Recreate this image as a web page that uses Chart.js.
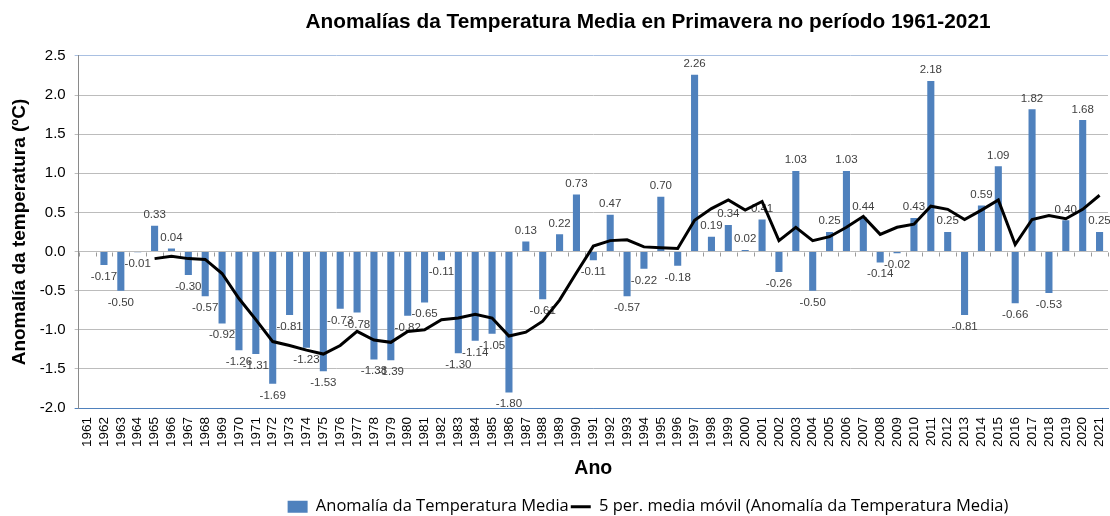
<!DOCTYPE html>
<html>
<head>
<meta charset="utf-8">
<script src="https://cdn.jsdelivr.net/npm/chart.js@4.4.1/dist/chart.umd.min.js"></script>
<style>
  body { margin: 0; background: #fff; }
  #wrap { width: 1110px; height: 516px; overflow: hidden; }
</style>
</head>
<body>
<div id="wrap"><canvas id="myChart" width="1296" height="525"></canvas></div>
<script>
// anos 1961-2021
var years = ["1961", "1962", "1963", "1964", "1965", "1966", "1967", "1968", "1969", "1970",
  "1971", "1972", "1973", "1974", "1975", "1976", "1977", "1978", "1979", "1980",
  "1981", "1982", "1983", "1984", "1985", "1986", "1987", "1988", "1989", "1990",
  "1991", "1992", "1993", "1994", "1995", "1996", "1997", "1998", "1999", "2000",
  "2001", "2002", "2003", "2004", "2005", "2006", "2007", "2008", "2009", "2010",
  "2011", "2012", "2013", "2014", "2015", "2016", "2017", "2018", "2019", "2020", "2021"];

// anomalia (ºC)
var anomaly = [null, -0.17, -0.50, -0.01, 0.33, 0.04, -0.30, -0.57, -0.92, -1.26,
  -1.31, -1.69, -0.81, -1.23, -1.53, -0.73, -0.78, -1.38, -1.39, -0.82,
  -0.65, -0.11, -1.30, -1.14, -1.05, -1.80, 0.13, -0.61, 0.22, 0.73,
  -0.11, 0.47, -0.57, -0.22, 0.70, -0.18, 2.26, 0.19, 0.34, 0.02,
  0.41, -0.26, 1.03, -0.50, 0.25, 1.03, 0.44, -0.14, -0.02, 0.43,
  2.18, 0.25, -0.81, 0.59, 1.09, -0.66, 1.82, -0.53, 0.40, 1.68, 0.25];

// media movel 5 anos
var movingAvg = [null, null, null, null, -0.09, -0.06, -0.09, -0.10, -0.28, -0.60,
  -0.87, -1.15, -1.20, -1.26, -1.31, -1.20, -1.02, -1.13, -1.16, -1.02,
  -1.00, -0.87, -0.85, -0.80, -0.85, -1.08, -1.03, -0.89, -0.62, -0.27,
  0.07, 0.14, 0.15, 0.06, 0.05, 0.04, 0.40, 0.55, 0.66, 0.53,
  0.64, 0.14, 0.31, 0.14, 0.19, 0.31, 0.45, 0.22, 0.31, 0.35,
  0.58, 0.54, 0.41, 0.53, 0.66, 0.09, 0.41, 0.46, 0.42, 0.54, 0.72];

var yTicks = [-2.0, -1.5, -1.0, -0.5, 0.0, 0.5, 1.0, 1.5, 2.0, 2.5];

var blue = "#4f81bd";

// etiquetas dos valores nas barras
const barLabels = {
  id: 'barLabels',
  afterDatasetDraw(chart, args) {
    if (args.index !== 0) return;
    const ctx = chart.ctx;
    ctx.save();
    ctx.font = '11.5px "Liberation Sans"';
    ctx.fillStyle = '#404040';
    ctx.textAlign = 'center';
    args.meta.data.forEach(function (bar, i) {
      var v = anomaly[i];
      if (v === null) return;
      if (v >= 0) {
        ctx.textBaseline = 'bottom';
        ctx.fillText(v.toFixed(2), bar.x, bar.y - 5);
      } else {
        ctx.textBaseline = 'top';
        ctx.fillText(v.toFixed(2), bar.x, bar.y + 6);
      }
    });
    ctx.restore();
  }
};

// marcas no eixo zero
const zeroTicks = {
  id: 'zeroTicks',
  beforeDatasetsDraw(chart) {
    const ctx = chart.ctx;
    const xs = chart.scales.x, ys = chart.scales.y;
    const y0 = Math.round(ys.getPixelForValue(0)) + 0.5;
    const step = xs.width / years.length;
    ctx.save();
    ctx.strokeStyle = '#9a9a9a';
    ctx.lineWidth = 1;
    ctx.beginPath();
    for (let i = 0; i <= years.length; i++) {
      const px = Math.round(xs.left + i * step) + 0.5;
      ctx.moveTo(px, y0);
      ctx.lineTo(px, y0 + 4);
    }
    ctx.stroke();
    ctx.restore();
  }
};

const ctx = document.getElementById('myChart');

new Chart(ctx, {
  type: 'bar',
  data: {
    labels: years,
    datasets: [
      {
        label: 'Anomalía da Temperatura Media',
        data: anomaly,
        backgroundColor: blue,
        borderWidth: 0,
        categoryPercentage: 1,
        barPercentage: 0.42,
        pointStyle: 'rect',
        order: 1
      },
      {
        type: 'line',
        label: '5 per. media móvil (Anomalía da Temperatura Media)',
        data: movingAvg,
        borderColor: '#000',
        backgroundColor: '#000',
        borderWidth: 3,
        pointRadius: 0,
        tension: 0,
        pointStyle: 'line',
        order: 0
      }
    ]
  },
  options: {
    responsive: false,
    animation: false,
    layout: { padding: 0 },
    plugins: {
      title: {
        display: true,
        text: 'Anomalías da Temperatura Media en Primavera no período 1961-2021',
        font: { family: '"Liberation Sans"', size: 20.8, weight: 'bold' },
        color: '#000',
        padding: { top: 9.5, bottom: 21.5 }
      },
      legend: {
        position: 'bottom',
        labels: {
          usePointStyle: true,
          pointStyleWidth: 20,
          boxHeight: 12,
          padding: 2,
          color: '#000',
          font: { family: '"Open Sans"', size: 16.5 },
          sort: function (a, b) { return a.datasetIndex - b.datasetIndex; }
        }
      },
      tooltip: { enabled: false }
    },
    scales: {
      x: {
        grid: { display: false },
        border: { color: blue },
        ticks: {
          autoSkip: false,
          minRotation: 90,
          maxRotation: 90,
          padding: 1,
          color: '#000',
          font: { family: '"Liberation Sans"', size: 13.5 }
        },
        title: {
          display: true,
          text: 'Ano',
          color: '#000',
          font: { family: '"Liberation Sans"', size: 19.5, weight: 'bold' },
          padding: { top: 9, bottom: 16 }
        }
      },
      y: {
        min: yTicks[0],
        max: yTicks[yTicks.length - 1],
        afterBuildTicks: function (scale) {
          scale.ticks = yTicks.map(function (v) { return { value: v }; });
        },
        ticks: {
          padding: 9,
          color: '#000',
          font: { family: '"Liberation Sans"', size: 15 },
          callback: function (v) { return Number(v).toFixed(1); }
        },
        grid: {
          tickLength: 4,
          color: function (c) {
            if (c.tick && c.tick.value === 2.5) return '#a9c0e2';
            if (c.tick && c.tick.value === -2) return blue;
            return '#bcbcbc';
          }
        },
        border: { color: '#8a8a8a' },
        title: {
          display: true,
          text: 'Anomalía da temperatura (ºC)',
          color: '#000',
          font: { family: '"Liberation Sans"', size: 19, weight: 'bold' },
          padding: { top: 8, bottom: 0 }
        }
      },
      // espaço à direita (o gráfico original continua além do recorte)
      yR: {
        type: 'linear',
        position: 'right',
        grid: { display: false },
        border: { display: false },
        ticks: { display: false },
        afterFit: function (scale) { scale.width = 188; }
      }
    }
  },
  plugins: [zeroTicks, barLabels]
});
</script>
</body>
</html>
